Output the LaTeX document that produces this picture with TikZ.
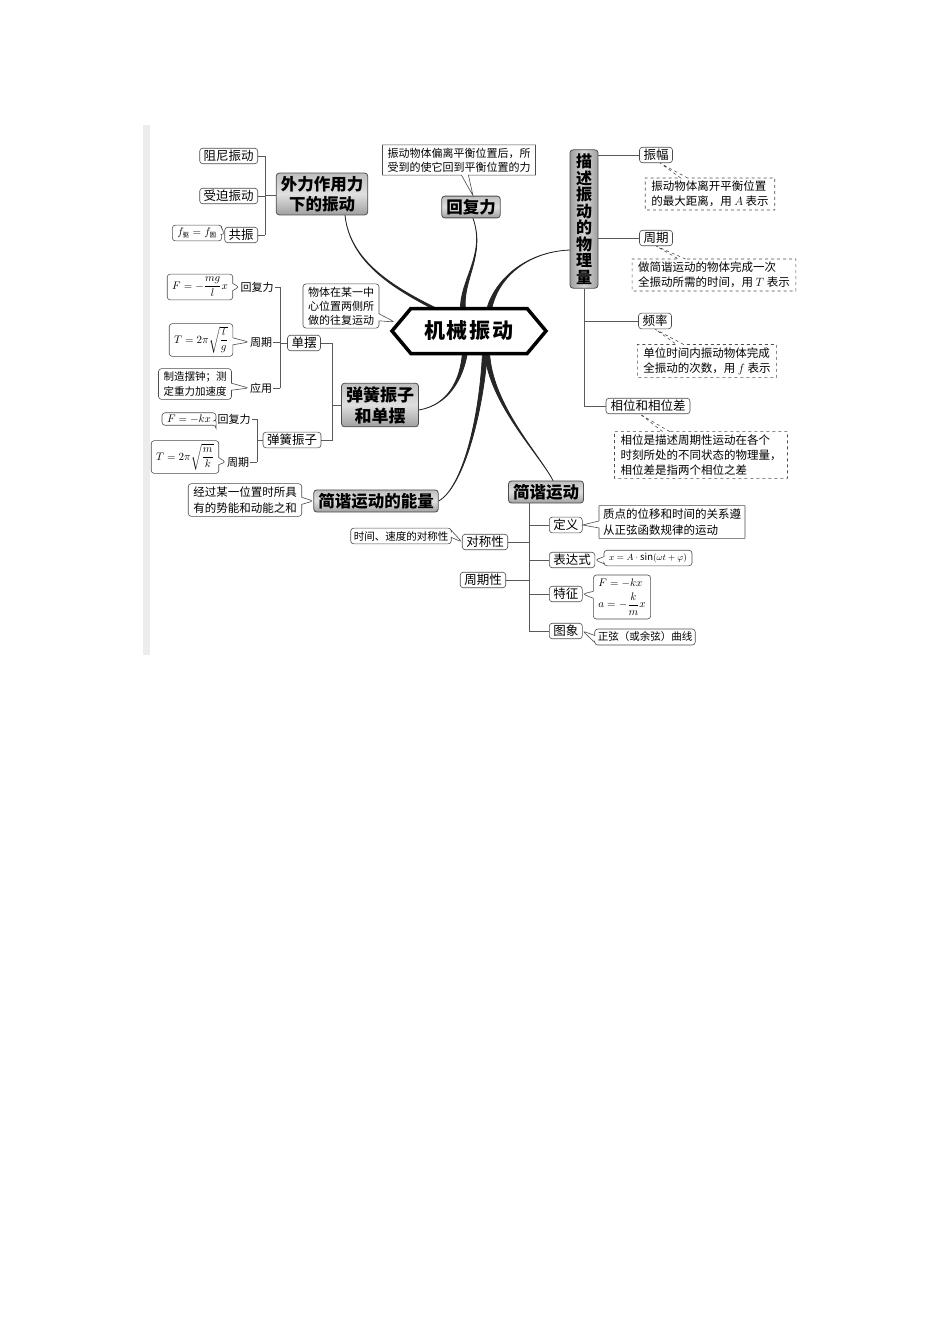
\documentclass[tikz,border=0pt]{standalone}
\usepackage{amsmath}
\usepackage{fontspec}
\setmainfont{Noto Sans CJK SC}
\usetikzlibrary{shapes.callouts,shapes.symbols,calc}
\pgfdeclarelayer{bg}
\pgfsetlayers{bg,main}

\tikzset{
  head/.style={draw=black!70, line width=0.8pt, rounded corners=3pt,
    top color=gray!50, bottom color=gray!75, middle color=gray!25,
    font=\bfseries\fontsize{16.5}{20}\selectfont, align=center,
    inner xsep=4.5pt, inner ysep=3pt},
  vhead/.style={left color=gray!75, right color=gray!75, middle color=gray!32,
    font=\bfseries\fontsize{16}{16.5}\selectfont, inner xsep=6pt, inner ysep=4pt},
  hexa/.style={signal, signal to=west and east, signal pointer angle=100,
    draw, line width=3.5pt, fill=white, minimum width=154pt, minimum height=45pt,
    font=\bfseries\fontsize{21}{24}\selectfont},
  leaf/.style={draw=black!70, line width=0.6pt, rounded corners=3pt, fill=white,
    font=\fontsize{12.5}{14}\selectfont, inner xsep=4pt, inner ysep=2pt},
  lbl/.style={font=\fontsize{11}{13}\selectfont, inner sep=1pt},
  note/.style={rectangle callout, draw=black!70, line width=0.6pt, fill=white,
    rounded corners=3pt, font=\fontsize{11}{14}\selectfont, align=left,
    inner xsep=5pt, inner ysep=3pt, callout pointer width=7pt},
  fnote/.style={note, font=\fontsize{11}{13}\selectfont},
  boxnote/.style={note, sharp corners},
  dnote/.style={boxnote, dashed, font=\fontsize{11.5}{15}\selectfont, inner xsep=6pt},
  link/.style={draw=black!65, line width=0.6pt},
  limb/.style={fill=black!85, draw=black!85, line width=0.8pt, line join=round},
}
% thick tapered branch: start, control, control, end, half width
\newcommand\branchlimb[5]{\path[limb] #1 .. controls #2 and #3 .. ($#4+#5$) -- ($#4-#5$) .. controls ($#3-#5$) and #2 .. #1 -- cycle;}

\begin{document}
\begin{tikzpicture}[x=1pt,y=-1pt]
\useasboundingbox (0,0) rectangle (950,1344);
\fill[gray!15] (143,125) rectangle (150,655);

% centre
\node[hexa] (hex) at (469,331) {机\hspace{2pt}械\hspace{2pt}振\hspace{2pt}动};

% main branches
\node[head] (waili) at (322,194) {外力作用力\\下的振动};
\node[head] (huifu) at (471,207) {回复力};
\node[head, vhead] (miaoshu) at (584,219) {描\\述\\振\\动\\的\\物\\理\\量};
\node[head, font=\bfseries\fontsize{17}{21}\selectfont] (tanhuang) at (380,405) {弹簧振子\\和单摆};
\node[head] (nengliang) at (376,501) {简谐运动的能量};
\node[head] (jianxie) at (546,492) {简谐运动};

% forced vibrations
\node[leaf, anchor=east] (zuni) at (258,156) {阻尼振动};
\node[leaf, anchor=east] (shoupo) at (258,196) {受迫振动};
\node[leaf, anchor=east] (gongz) at (258,235) {共振};
\node[fnote, callout absolute pointer={(gongz.west)}] (fq) at (197,233)
  {$f_{\mbox{\fontsize{6.5}{7}\selectfont 驱}}=f_{\mbox{\fontsize{6.5}{7}\selectfont 固}}$};
\coordinate (b1) at (265,195);
\foreach \n in {zuni,shoupo,gongz}
  \draw[link] (\n.east) -- (\n.east -| b1);
\draw[link] (zuni.east -| b1) -- (gongz.east -| b1);
\draw[link] (b1) -- (waili.west |- b1);

% restoring force
\node[boxnote, callout absolute pointer={($(huifu.north)+(2,0)$)}] (hfn) at (459,160)
  {振动物体偏离平衡位置后，所\\受到的使它回到平衡位置的力};

% physical quantities
\node[leaf] (zhenfu) at (656,155) {振幅};
\node[dnote, callout absolute pointer={($(zhenfu.south)+(4,0)$)}] (zfn) at (710,194)
  {振动物体离开平衡位置\\的最大距离，用 $A$ 表示};
\node[leaf] (zhouqi) at (656,238) {周期};
\node[dnote, callout absolute pointer={(zhouqi.south)}] (zqn) at (714,275)
  {做简谐运动的物体完成一次\\全振动所需的时间，用 $T$ 表示};
\node[leaf] (pinlv) at (655,321) {频率};
\node[dnote, callout absolute pointer={(pinlv.south)}] (pln) at (707,361)
  {单位时间内振动物体完成\\全振动的次数，用 $f$ 表示};
\node[leaf, minimum width=84pt] (xiangwei) at (648,406) {相位和相位差};
\node[dnote, callout absolute pointer={($(xiangwei.south)+(-8,0)$)}] (xwn) at (701,455)
  {相位是描述周期性运动在各个\\时刻所处的不同状态的物理量，\\相位差是指两个相位之差};
\draw[link] (miaoshu.east |- zhenfu) -- (zhenfu.west);
\draw[link] (miaoshu.east |- zhouqi) -- (zhouqi.west);
\draw[link] (miaoshu.south) -- (miaoshu.south |- xiangwei) -- (xiangwei.west);
\draw[link] (miaoshu.south |- pinlv) -- (pinlv.west);

% definition
\node[note, inner xsep=5pt, callout absolute pointer={($(hex.west)+(5,-9)$)}] (wtn) at (341,306)
  {物体在某一中\\心位置两侧所\\做的往复运动};

% pendulum
\node[leaf] (danbai) at (304,343) {单摆};
\node[lbl] (hf1) at (257,287) {回复力};
\node[lbl] (zq2) at (261,342) {周期};
\node[lbl] (yy) at (261,388) {应用};
\node[fnote, callout absolute pointer={(hf1.west)}] (fmg) at (200,287) {$F=-\dfrac{mg}{l}x$};
\node[fnote, callout absolute pointer={(zq2.west)}] (tl) at (201,340) {$T=2\pi\sqrt{\dfrac{l}{g}}$};
\node[note, font=\fontsize{10.5}{15}\selectfont, callout absolute pointer={(yy.west)}] (zz) at (195,384) {制造摆钟；测\\定重力加速度};
\coordinate (b2) at (280,343);
\foreach \n in {hf1,zq2,yy}
  \draw[link] (\n.east) -- (\n.east -| b2);
\draw[link] (hf1.east -| b2) -- (yy.east -| b2);
\draw[link] (b2) -- (danbai.west);

% spring oscillator
\node[leaf] (thzz) at (292,440) {弹簧振子};
\node[lbl] (hf2) at (234,419) {回复力};
\node[lbl] (zq3) at (238,462) {周期};
\node[fnote, inner ysep=2pt, callout absolute pointer={(hf2.west)}] (fkx) at (189,419) {$F=-kx$};
\node[fnote, callout absolute pointer={(zq3.west)}] (tmk) at (185,457) {$T=2\pi\sqrt{\dfrac{m}{k}}$};
\coordinate (b4) at (257,440);
\foreach \n in {hf2,zq3}
  \draw[link] (\n.east) -- (\n.east -| b4);
\draw[link] (hf2.east -| b4) -- (zq3.east -| b4);
\draw[link] (b4) -- (thzz.west);
\coordinate (b3) at (332,405);
\draw[link] (danbai.east) -- (danbai.east -| b3) -- (thzz.east -| b3) -- (thzz.east);
\draw[link] (b3) -- (tanhuang.west |- b3);

% energy
\node[note, font=\fontsize{11.5}{16}\selectfont, callout absolute pointer={(nengliang.west)}] (nln) at (245,500)
  {经过某一位置时所具\\有的势能和动能之和};

% simple harmonic motion
\node[leaf, anchor=west] (dingyi) at (549,525) {定义};
\node[leaf, anchor=west] (biaoda) at (549,560) {表达式};
\node[leaf, anchor=west] (tezheng) at (549,594) {特征};
\node[leaf, anchor=west] (tuxiang) at (549,631) {图象};
\node[leaf] (duicheng) at (485,542) {对称性};
\node[leaf] (zqx) at (483,580) {周期性};
\node[boxnote, font=\fontsize{11.5}{16}\selectfont, inner xsep=4pt, callout absolute pointer={(dingyi.east)}] (dyn) at (672,522)
  {质点的位移和时间的关系遵\\从正弦函数规律的运动};
\node[note, font=\fontsize{9.5}{11}\selectfont, callout absolute pointer={(biaoda.east)}] (bdn) at (648,558)
  {$x=A\cdot\sin(\omega t+\varphi)$};
\node[note, font=\fontsize{10.5}{13}\selectfont, inner ysep=4pt, callout absolute pointer={(tezheng.east)}] (tzn) at (622,597)
  {$F=-kx$\\[4pt]$a=-\dfrac{k}{m}x$};
\node[note, font=\fontsize{10.5}{12}\selectfont, inner xsep=3pt, callout absolute pointer={(tuxiang.east)}] (txn) at (645,637)
  {正弦（或余弦）曲线};
\node[note, font=\fontsize{10.5}{12}\selectfont, inner xsep=3pt, callout absolute pointer={(duicheng.west)}] (dcn) at (401,536)
  {时间、速度的对称性};
\coordinate (b5) at ($(jianxie.south west)+(21,0)$);
\draw[link] (b5) -- (b5 |- tuxiang.west);
\foreach \n in {dingyi,biaoda,tezheng,tuxiang}
  \draw[link] (b5 |- \n.west) -- (\n.west);
\foreach \n in {duicheng,zqx}
  \draw[link] (\n.east) -- (\n.east -| b5);

% thick branches
\begin{pgfonlayer}{bg}
  \coordinate (s1) at ($(waili.south)+(23,0)$);
  \coordinate (e1) at ($(hex.north)+(-32,3)$);
  \coordinate (s2) at ($(huifu.south)+(2,0)$);
  \coordinate (e2) at ($(hex.north)+(-6,3)$);
  \coordinate (s3) at ($(miaoshu.west)+(0,31)$);
  \coordinate (e3) at ($(hex.north)+(20,3)$);
  \coordinate (s4) at ($(tanhuang.east)+(0,5)$);
  \coordinate (e4) at ($(hex.south)+(-4,-3)$);
  \coordinate (s5) at (nengliang.east);
  \coordinate (e5) at ($(hex.south)+(16,-3)$);
  \coordinate (s6) at ($(jianxie.north)+(7,0)$);
  \coordinate (e6) at ($(hex.south)+(18,-3)$);
  \branchlimb{(s1)}{(350,262)}{(395,288)}{(e1)}{(2.5,0)}
  \branchlimb{(s2)}{(486,255)}{(462,280)}{(e2)}{(2.5,0)}
  \branchlimb{(s3)}{(525,252)}{(497,280)}{(e3)}{(2.5,0)}
  \branchlimb{(s4)}{(448,405)}{(463,380)}{(e4)}{(2.5,0)}
  \branchlimb{(s5)}{(462,488)}{(482,420)}{(e5)}{(2.5,0)}
  \branchlimb{(s6)}{(540,455)}{(492,405)}{(e6)}{(2.5,0)}
\end{pgfonlayer}
\end{tikzpicture}
\end{document}
